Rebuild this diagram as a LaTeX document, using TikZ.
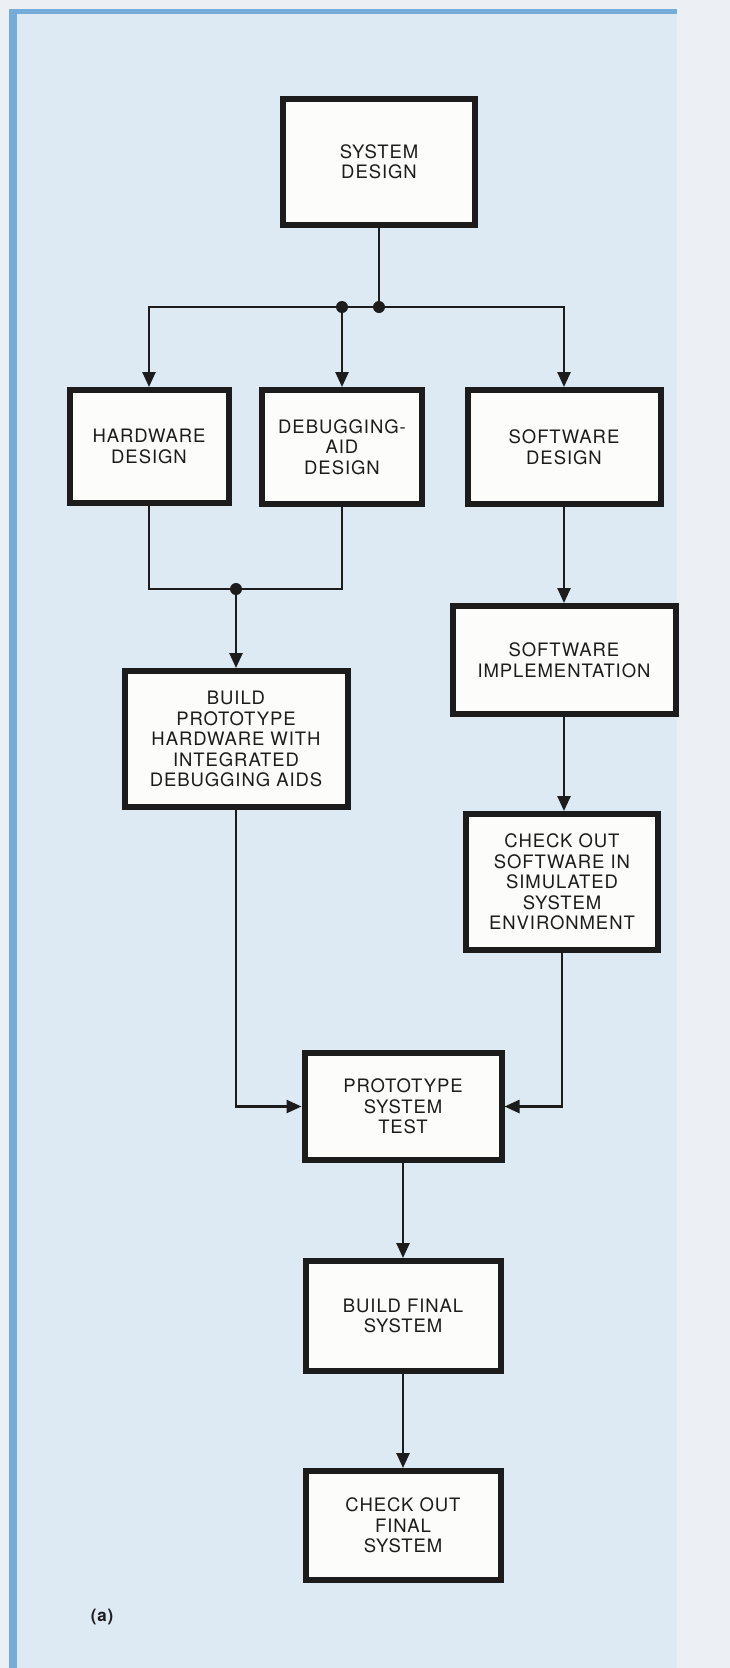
\documentclass[tikz,border=0pt]{standalone}
\usepackage{fontspec}
\setmainfont{TeX Gyre Heros}[LetterSpace=5]
\usetikzlibrary{arrows.meta}

\definecolor{paper}{RGB}{221,233,243}
\definecolor{pageedge}{RGB}{236,240,244}
\definecolor{frameblue}{RGB}{118,172,218}
\definecolor{ink}{RGB}{28,28,28}
\definecolor{boxfill}{RGB}{252,252,250}

\begin{document}
\begin{tikzpicture}[x=1pt, y=-1pt, >={Triangle[width=13pt,length=15pt]},
  box/.style={draw=ink, line width=6pt, fill=boxfill, text=ink, align=center,
    inner sep=0pt, font=\fontsize{18.5}{20.5}\selectfont},
  link/.style={draw=ink, line width=2.5pt}]
  % Page and frame
  \fill[pageedge] (0,0) rectangle (730,1668);
  \fill[paper] (9,9) rectangle (677,1668);
  \fill[frameblue] (9,9) rectangle (677,14);
  \fill[frameblue] (9,9) rectangle (17,1668);

  % Boxes
  \node[box, minimum width=192pt, minimum height=126pt] (sys) at (379,162) {SYSTEM\\DESIGN};
  \node[box, minimum width=159pt, minimum height=113pt] (hw) at (149,446.5) {HARDWARE\\DESIGN};
  \node[box, minimum width=160pt, minimum height=114pt] (dbg) at (342,447) {DEBUGGING-\\AID\\DESIGN};
  \node[box, minimum width=193pt, minimum height=114pt] (swd) at (564,447) {SOFTWARE\\DESIGN};
  \node[box, minimum width=223pt, minimum height=108pt] (swi) at (564,660) {SOFTWARE\\IMPLEMENTATION};
  \node[box, minimum width=223pt, minimum height=136pt] (proto) at (236,739) {BUILD\\PROTOTYPE\\HARDWARE WITH\\INTEGRATED\\DEBUGGING AIDS};
  \node[box, minimum width=192pt, minimum height=136pt] (chk) at (562,882) {CHECK OUT\\SOFTWARE IN\\SIMULATED\\SYSTEM\\ENVIRONMENT};
  \node[box, minimum width=197pt, minimum height=107pt] (test) at (403,1106.5) {PROTOTYPE\\SYSTEM\\TEST};
  \node[box, minimum width=195pt, minimum height=110pt] (final) at (403,1316) {BUILD FINAL\\SYSTEM};
  \node[box, minimum width=195pt, minimum height=109pt] (chkfinal) at (403,1525.5) {CHECK OUT\\FINAL\\SYSTEM};

  % Branch points
  \coordinate (split) at (379,307);
  \coordinate (tap) at (342,307);
  \coordinate (merge) at (236,589);

  % Connectors
  \draw[link] (sys.south) -- (split);
  \draw[link,->] (split) -| (swd.north);
  \draw[link,->] (split) -| (hw.north);
  \draw[link,->] (tap) -- (dbg.north);
  \draw[link] (hw.south) |- (merge) -| (dbg.south);
  \draw[link,->] (merge) -- (proto.north);
  \draw[link,->] (swd.south) -- (swi.north);
  \draw[link,->] (swi.south) -- (swi.south |- chk.north);
  \draw[link,->] (proto.south) |- (test.west);
  \draw[link,->] (chk.south) |- (test.east);
  \draw[link,->] (test.south) -- (final.north);
  \draw[link,->] (final.south) -- (chkfinal.north);

  % Junction dots
  \fill[ink] (split) circle (6pt);
  \fill[ink] (tap) circle (6pt);
  \fill[ink] (merge) circle (6pt);

  % Figure tag
  \node[text=ink, font=\bfseries\fontsize{17}{17}\selectfont] (tag) at (102,1617) {(a)};
\end{tikzpicture}
\end{document}
